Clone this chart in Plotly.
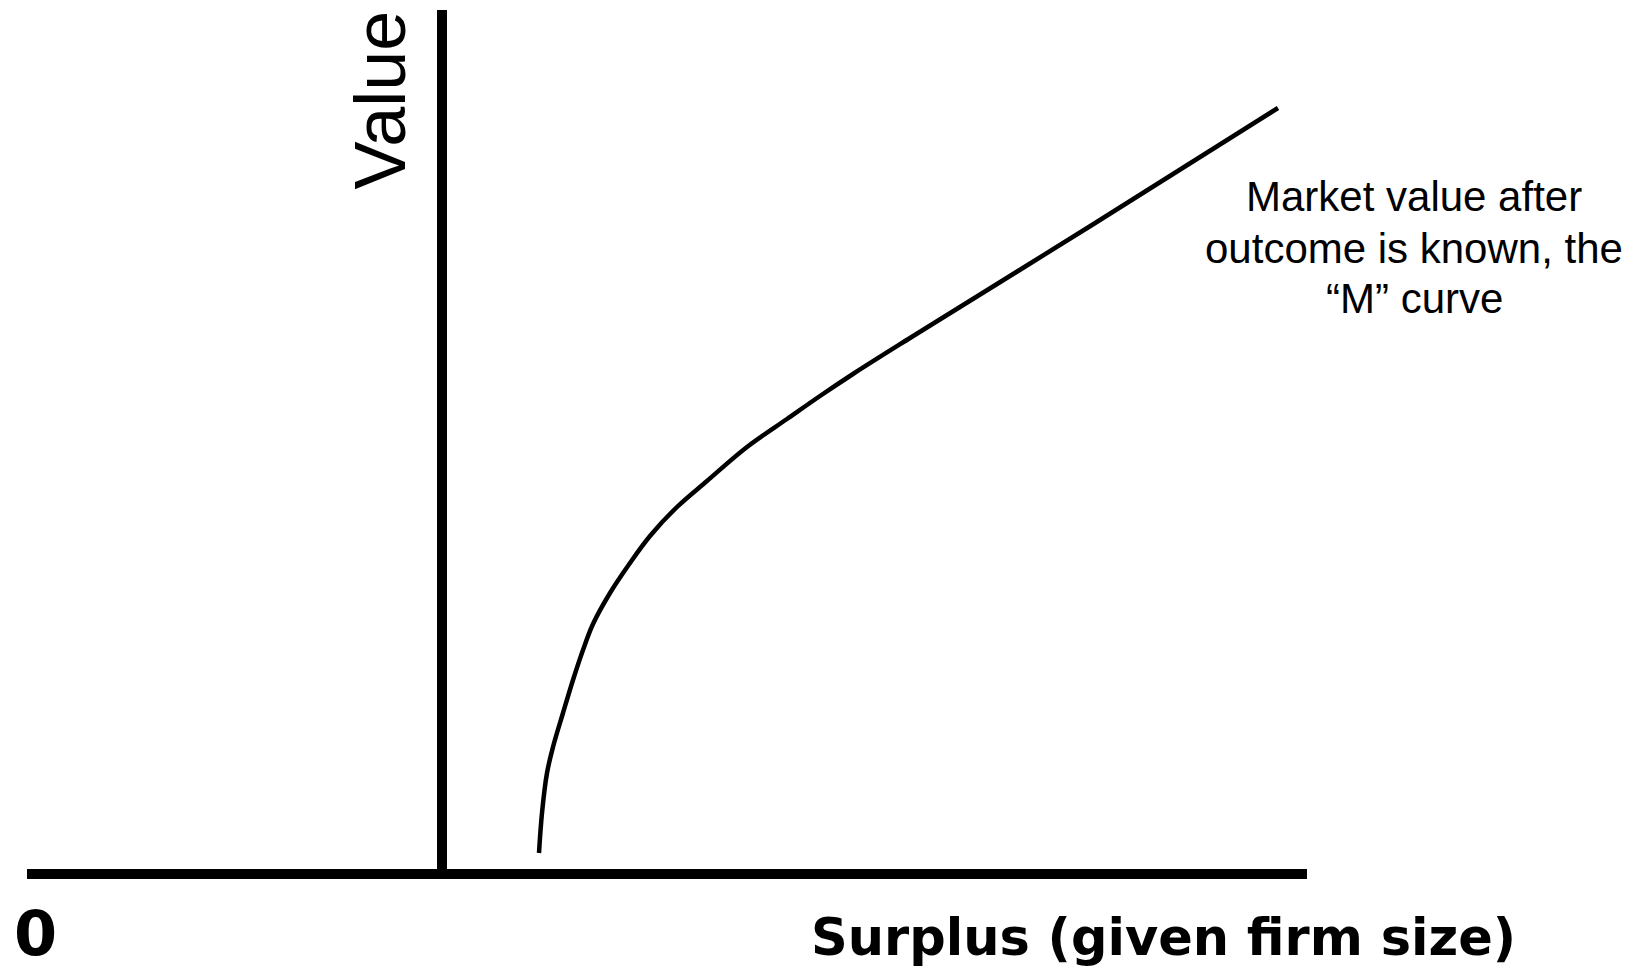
import plotly.graph_objects as go

# "M" curve: market value after the outcome is known, against surplus
surplus = [0.97, 1.00, 1.05, 1.11, 1.21, 1.31, 1.41, 1.51, 1.68, 1.88, 2.08,
           2.35, 2.65, 3.05, 3.45, 3.78, 4.11, 4.68, 6.50, 8.36]
market_value = [0.21, 0.61, 1.01, 1.27, 1.61, 1.94, 2.24, 2.50, 2.81, 3.11, 3.38,
                3.67, 3.93, 4.27, 4.55, 4.78, 5.00, 5.36, 6.49, 7.66]

curve_label = ["Market value after", "outcome is known, the", "\u201cM\u201d curve"]
x_title = "Surplus (given firm size)"
y_title = "Value"
origin_label = "0"

fig = go.Figure()

fig.add_trace(go.Scatter(x=surplus, y=market_value, mode="lines",
                         line=dict(color="black", width=4.5, shape="spline", smoothing=1.0),
                         hoverinfo="skip", showlegend=False))

# the two axes, drawn as thick lines
fig.add_shape(type="line", x0=-4.15, x1=8.65, y0=0, y1=0, xref="x", yref="y",
              line=dict(color="black", width=10))
fig.add_shape(type="line", x0=0, x1=0, y0=0, y1=8.64, xref="x", yref="y",
              line=dict(color="black", width=10))

fig.add_annotation(x=7.215, y=-0.63, text=x_title, showarrow=False,
                   xanchor="center", yanchor="middle",
                   font=dict(family="DejaVu Sans", size=51, color="black", weight="bold"))
fig.add_annotation(x=-4.065, y=-0.59, text=origin_label, showarrow=False,
                   xanchor="center", yanchor="middle",
                   font=dict(family="DejaVu Sans", size=62, color="black", weight="bold"))
fig.add_annotation(x=-0.625, y=7.74, text=y_title, showarrow=False, textangle=-90,
                   xanchor="center", yanchor="middle",
                   font=dict(family="Liberation Sans", size=72, color="black"))

for line, yy in zip(curve_label, [6.78, 6.26, 5.76]):
    fig.add_annotation(x=9.72, y=yy, text=line, showarrow=False,
                       xanchor="center", yanchor="middle",
                       font=dict(family="Liberation Sans", size=42, color="black"))

# the page has an 8px body margin; the figure runs from there to the window edge
fig.update_xaxes(range=[-4.34, 12.02], visible=False, fixedrange=True)
fig.update_yaxes(range=[-1.0, 8.66], visible=False, fixedrange=True)
fig.update_layout(width=1636, height=966, margin=dict(l=0, r=0, t=0, b=0),
                  plot_bgcolor="white", paper_bgcolor="white", showlegend=False)

fig.write_html("out.html")
